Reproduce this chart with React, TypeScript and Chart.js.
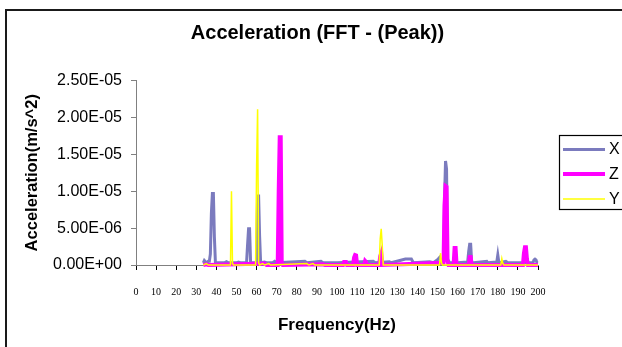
import React, { useEffect, useRef } from "react";
import { Chart, registerables } from "chart.js";

Chart.register(...registerables);

// ---- Data (acceleration values in units of 1e-6 m/s^2) ----
const chartTitle = "Acceleration (FFT - (Peak))";
const xAxisTitle = "Frequency(Hz)";
const yAxisTitle = "Acceleration(m/s^2)";
const seriesNames = ["X", "Z", "Y"];
const seriesColors = ["#7B7BBE", "#FF00FF", "#FFFF00"];
const seriesWidths = [3, 4, 1.5];

const xTickValues = [0, 10, 20, 30, 40, 50, 60, 70, 80, 90, 100, 110, 120, 130, 140, 150, 160, 170, 180, 190, 200];
const yTickValues = [0, 5e-6, 1e-5, 1.5e-5, 2e-5, 2.5e-5];

const xFreq = [33.5, 34, 35, 36, 36.5, 37, 37.5, 38, 38.5, 39, 39.5, 40, 44, 45, 46, 50, 51, 52, 55, 55.5, 56, 56.5, 57, 57.5, 60, 60.5, 61, 61.5, 62, 64, 65, 68, 69, 70, 84, 85, 92, 93, 100, 118, 119, 126, 127, 134, 137, 138, 146, 148, 150, 151, 152, 153, 153.5, 154, 154.5, 155, 156, 160, 165, 165.5, 166, 166.5, 167, 168, 174.5, 175, 179.5, 180, 180.5, 181, 184, 185, 197.5, 198, 198.5, 199, 199.5, 200];
const xAccel = [0.3, 0.6, 0.3, 0.5, 0.5, 1.5, 7.0, 9.7, 9.7, 3.8, 0.4, 0.3, 0.3, 0.45, 0.3, 0.3, 0.4, 0.3, 0.3, 2.7, 4.9, 4.9, 0.4, 0.3, 0.3, 9.35, 9.35, 3.9, 0.3, 0.4, 0.3, 0.3, 0.5, 0.3, 0.5, 0.3, 0.5, 0.3, 0.3, 0.5, 0.3, 0.45, 0.3, 0.8, 0.8, 0.3, 0.45, 0.3, 0.7, 1.0, 0.5, 0.8, 9.0, 14.1, 13.0, 0.8, 0.3, 0.3, 0.4, 1.8, 2.8, 2.8, 0.4, 0.3, 0.5, 0.3, 0.4, 1.35, 0.4, 0.3, 0.5, 0.3, 0.3, 0.7, 0.8, 0.7, 0.3, 0.3];

const zFreq = [33.5, 35, 36, 64, 65, 70.5, 71, 71.5, 72, 72.5, 73, 93, 94, 103, 103.5, 104.5, 105, 108, 108.5, 109, 109.5, 110, 113.5, 114, 114.5, 115, 121, 121.5, 122, 122.5, 153, 153.5, 154, 154.5, 155, 155.5, 158, 158.5, 159, 159.5, 165.5, 166, 166.5, 167, 192.5, 193, 193.5, 194, 194.5, 195, 200];
const zAccel = [0, 0.1, 0, 0.2, 0, 0, 10.0, 17.3, 17.3, 0.2, 0, 0.1, 0, 0, 0.4, 0.4, 0, 0, 1.0, 1.35, 1.3, 0, 0, 0.55, 0.4, 0, 0, 1.2, 1.6, 0, 0.3, 8.1, 10.7, 10.6, 0.5, 0, 0, 2.3, 2.3, 0, 0, 1.1, 1.1, 0, 0, 1.6, 2.4, 2.4, 0.8, 0, 0];

const yFreq = [33.5, 35, 36, 47, 47.5, 48, 48.5, 59.5, 60, 60.5, 61, 61.5, 63, 64, 66, 67, 85, 86, 88, 89, 121, 121.5, 122, 122.5, 123, 151, 151.5, 152, 152.5, 181.5, 182, 182.5, 183, 200];
const yAccel = [0, 0.2, 0, 0, 10.0, 0.2, 0, 0, 13.3, 21.1, 0.3, 0, 0.2, 0, 0.2, 0, 0.2, 0, 0.2, 0, 0, 3.6, 4.9, 2.7, 0, 0, 1.6, 0.3, 0, 0, 0.85, 0.2, 0, 0];

const MICRO = 1e-6;

function sci(v: number): string {
  const [m, e] = v.toExponential(2).split("e");
  const n = parseInt(e, 10);
  return `${m}E${n < 0 ? "-" : "+"}${String(Math.abs(n)).padStart(2, "0")}`;
}

const SANS = "'Liberation Sans', Arial, sans-serif";
const SERIF = "'Liberation Serif', 'Times New Roman', serif";

const framePlugin = {
  id: "frame",
  beforeDraw(chart: any) {
    const { ctx, width, height } = chart;
    ctx.save();
    ctx.fillStyle = "#ffffff";
    ctx.fillRect(0, 0, width, height);
    ctx.strokeStyle = "#1a1a1a";
    ctx.lineWidth = 2;
    ctx.strokeRect(6, 10, width + 50, height + 50);
    ctx.restore();
  },
};

const boxLegendPlugin = {
  id: "boxLegend",
  afterDraw(chart: any) {
    const { ctx, chartArea } = chart;
    const left = chartArea.right + 21;
    const top = 135;
    ctx.save();
    ctx.strokeStyle = "#000";
    ctx.lineWidth = 1.2;
    ctx.strokeRect(left + 0.5, top + 0.5, 120, 74);
    const rows = [149.5, 174, 199];
    const order = [0, 1, 2];
    order.forEach((i, k) => {
      const ds = chart.data.datasets[i];
      ctx.strokeStyle = ds.borderColor;
      ctx.lineWidth = ds.borderWidth;
      ctx.beginPath();
      ctx.moveTo(left + 4, rows[k]);
      ctx.lineTo(left + 46, rows[k]);
      ctx.stroke();
      ctx.fillStyle = "#000";
      ctx.font = `16px ${SANS}`;
      ctx.textBaseline = "middle";
      ctx.textAlign = "left";
      ctx.fillText(ds.label, left + 50, rows[k] + 0.5);
    });
    ctx.restore();
  },
};

export default function App() {
  const ref = useRef<HTMLCanvasElement>(null);

  useEffect(() => {
    if (!ref.current) return;
    const freqs = [xFreq, zFreq, yFreq];
    const vals = [xAccel, zAccel, yAccel];
    const datasets = seriesNames.map((name, i) => ({
      label: name,
      data: freqs[i].map((f, j) => ({ x: f, y: vals[i][j] * MICRO })),
      borderColor: seriesColors[i],
      backgroundColor: seriesColors[i],
      borderWidth: seriesWidths[i],
      pointRadius: 0,
      tension: 0,
      fill: false,
      clip: false,
      order: 3 - i,
    }));

    const chart = new Chart(ref.current, {
      type: "line",
      data: { datasets },
      options: {
        animation: false,
        responsive: false,
        devicePixelRatio: 1,
        events: [],
        layout: { padding: { left: 13, right: 0, top: 0, bottom: 0 } },
        plugins: {
          legend: { display: false },
          tooltip: { enabled: false },
          title: {
            display: true,
            text: chartTitle,
            color: "#000",
            font: { family: SANS, size: 20, weight: "bold", lineHeight: 1.2 },
            padding: { top: 21, bottom: 35.5 },
          },
        },
        scales: {
          x: {
            type: "linear",
            position: "bottom",
            min: 0,
            max: 200,
            afterBuildTicks: (s: any) => {
              s.ticks = xTickValues.map((v) => ({ value: v }));
            },
            ticks: {
              autoSkip: false,
              maxRotation: 0,
              color: "#000",
              padding: 16,
              font: { family: SERIF, size: 10 },
              callback: (v: any) => String(v),
            },
            grid: { drawOnChartArea: false, drawTicks: true, tickLength: 5, color: "#000" },
            border: { display: true, color: "#808080", width: 1 },
            title: {
              display: true,
              text: xAxisTitle,
              color: "#000",
              font: { family: SANS, size: 17, weight: "bold", lineHeight: 1.2 },
              padding: { top: 0, bottom: 11.8 },
            },
            afterFit: (s: any) => {
              s.height = 82;
            },
          },
          y: {
            type: "linear",
            position: "left",
            min: 0,
            max: 2.5e-5,
            afterBuildTicks: (s: any) => {
              s.ticks = yTickValues.map((v) => ({ value: v }));
            },
            ticks: {
              color: "#000",
              padding: 9,
              font: { family: SANS, size: 16 },
              callback: (v: any) => sci(Number(v)),
            },
            grid: { drawOnChartArea: false, drawTicks: true, tickLength: 5, color: "#808080" },
            border: { display: true, color: "#808080", width: 1 },
            title: {
              display: true,
              text: yAxisTitle,
              color: "#000",
              font: { family: SANS, size: 16.5, weight: "bold", lineHeight: 1.2 },
              padding: { top: 9.6, bottom: 0 },
            },
            afterFit: (s: any) => {
              s.width = 123;
            },
          },
          yRight: {
            type: "linear",
            position: "right",
            display: true,
            grid: { display: false },
            border: { display: false },
            ticks: { display: false },
            afterFit: (s: any) => {
              s.width = 84;
            },
          },
        },
      },
      plugins: [framePlugin, boxLegendPlugin],
    } as any);
    return () => chart.destroy();
  }, []);

  return (
    <div style={{ position: "fixed", left: 0, top: 0, width: 622, height: 347, overflow: "hidden", background: "#fff" }}>
      <canvas ref={ref} width={622} height={347} style={{ display: "block" }} />
    </div>
  );
}
